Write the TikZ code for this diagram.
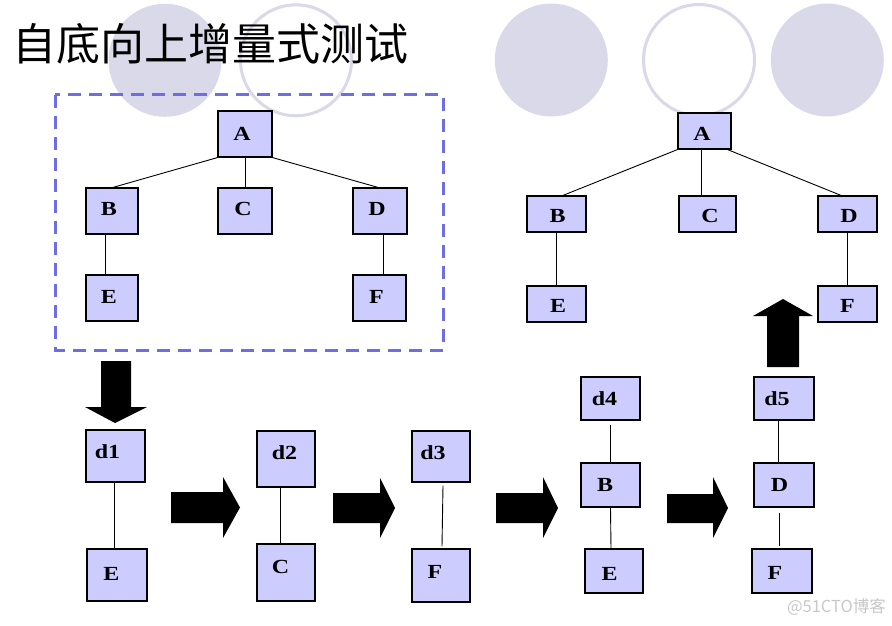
\documentclass[tikz,border=0pt]{standalone}
\usepackage{fontspec}
\setmainfont{Liberation Serif}
\newfontfamily\lblfont{Liberation Serif}[FakeStretch=1.2]
\newfontfamily\cjk{Noto Sans CJK SC}
\definecolor{boxfill}{RGB}{204,204,255}
\definecolor{circfill}{RGB}{217,217,233}
\definecolor{dashblue}{RGB}{110,110,228}
\definecolor{wmgray}{RGB}{200,200,200}
% label placed with an offset (dx right, dy up, in pt) from the box centre
\newcommand\lbl[3]{\raisebox{\dimexpr #2pt - 6.7pt\relax}[0pt][0pt]{\makebox[0pt]{\kern#1pt\kern#1pt #3}}}
\tikzset{
  tbox/.style={draw=black, line width=1.2pt, fill=boxfill, inner sep=0pt,
    font=\lblfont\fontsize{20}{20}\selectfont\bfseries},
  conn/.style={draw=black, line width=0.9pt},
  blockarrow/.style={fill=black},
  deco/.style={fill=circfill},
  decoring/.style={draw=circfill, line width=3pt},
}
\begin{document}
\begin{tikzpicture}[x=1pt,y=-1pt]
\useasboundingbox (0,0) rectangle (892,626);
\fill[white] (0,0) rectangle (892,626);
% decorative circles
\fill[deco] (165,60.3) circle[radius=56.5pt];
\draw[decoring] (296,60.3) circle[radius=55.5pt];
\fill[deco] (551.3,60) circle[radius=56.5pt];
\draw[decoring] (699,60) circle[radius=55.5pt];
\fill[deco] (827.3,60) circle[radius=56.5pt];
% title
\node[anchor=west, inner sep=0pt, font=\cjk\fontsize{44}{44}\selectfont] (title) at (12,44) {自底向上增量式测试};
% dashed frame
\draw[dashblue, line width=3pt, dash pattern=on 13pt off 8pt] (55,95) rectangle (443,350);
% left tree
\node[tbox, minimum width=54pt, minimum height=46pt] (LA) at (245,134) {\lbl{-3}{0}{A}};
\node[tbox, minimum width=52pt, minimum height=46pt] (LB) at (112,211) {\lbl{-3}{2}{B}};
\node[tbox, minimum width=54pt, minimum height=46pt] (LC) at (245,211) {\lbl{-2}{2}{C}};
\node[tbox, minimum width=54pt, minimum height=46pt] (LD) at (380,211) {\lbl{-3}{2}{D}};
\node[tbox, minimum width=52pt, minimum height=46pt] (LE) at (112,298) {\lbl{-3}{1.5}{E}};
\node[tbox, minimum width=53pt, minimum height=46pt] (LF) at (379.5,298) {\lbl{-3}{1.5}{F}};
\draw[conn] (LA.south west) -- ([xshift=1pt]LB.north);
\draw[conn] (LA.south) -- (LC.north);
\draw[conn] (LA.south east) -- ([xshift=-2pt]LD.north);
\draw[conn] ([xshift=-7pt]LB.south) -- ([xshift=-7pt]LE.north);
\draw[conn] ([xshift=3pt]LD.south) -- ([xshift=3.5pt]LF.north);
% right tree
\node[tbox, minimum width=53pt, minimum height=36pt] (RA) at (704.5,131) {\lbl{-2.5}{-3}{A}};
\node[tbox, minimum width=59pt, minimum height=36pt] (RB) at (556.5,214) {\lbl{1}{-2}{B}};
\node[tbox, minimum width=57pt, minimum height=36pt] (RC) at (707.5,214) {\lbl{2.5}{-2}{C}};
\node[tbox, minimum width=59pt, minimum height=36pt] (RD) at (847.5,214) {\lbl{1.5}{-2}{D}};
\node[tbox, minimum width=59pt, minimum height=36pt] (RE) at (556.5,304) {\lbl{1.5}{-2}{E}};
\node[tbox, minimum width=59pt, minimum height=36pt] (RF) at (847.5,304) {\lbl{0}{-2}{F}};
\draw[conn] (RA.south west) -- ([xshift=6.5pt]RB.north);
\draw[conn] ([xshift=-3.5pt]RA.south) -- ([xshift=-6.5pt]RC.north);
\draw[conn] ([xshift=-4pt]RA.south east) -- ([xshift=-6.5pt]RD.north);
\draw[conn] (RB.south) -- (RE.north);
\draw[conn] (RD.south) -- (RF.north);
% bottom sequence
\node[tbox, minimum width=59pt, minimum height=52pt] (d1) at (115.5,456) {\lbl{-8}{4}{d1}};
\node[tbox, minimum width=60pt, minimum height=52pt] (E1) at (117,575) {\lbl{-5.5}{1.5}{E}};
\draw[conn] ([xshift=-1.5pt]d1.south) -- ([xshift=-3pt]E1.north);
\node[tbox, minimum width=58pt, minimum height=56pt] (d2) at (286,459) {\lbl{-1.5}{6}{d2}};
\node[tbox, minimum width=58pt, minimum height=57pt] (C2) at (286,572.5) {\lbl{-5.5}{6}{C}};
\draw[conn] ([xshift=-6pt]d2.south) -- ([xshift=-6pt]C2.north);
\node[tbox, minimum width=58pt, minimum height=51pt] (d3) at (441,456.5) {\lbl{-8}{4}{d3}};
\node[tbox, minimum width=58pt, minimum height=53pt] (F3) at (441,575.5) {\lbl{-6}{4}{F}};
\draw[conn] ([xshift=2pt,yshift=-3pt]d3.south) -- ([xshift=1pt,yshift=2pt]F3.north);
\node[tbox, minimum width=59pt, minimum height=43pt] (d4) at (610.5,398.5) {\lbl{-6}{0}{d4}};
\node[tbox, minimum width=59pt, minimum height=44pt] (B4) at (610.5,485) {\lbl{-5.5}{0}{B}};
\node[tbox, minimum width=58pt, minimum height=44pt] (E4) at (614,571) {\lbl{-4.5}{-2.5}{E}};
\draw[conn] ([yshift=-4pt]d4.south) -- (B4.north);
\draw[conn] (B4.south) -- ([xshift=-3pt]E4.north);
\node[tbox, minimum width=60pt, minimum height=43pt] (d5) at (784,398.5) {\lbl{-7}{0}{d5}};
\node[tbox, minimum width=60pt, minimum height=44pt] (D5) at (784,485) {\lbl{-4.5}{0}{D}};
\node[tbox, minimum width=60pt, minimum height=44pt] (F5) at (782,571) {\lbl{-7}{-1.5}{F}};
\draw[conn] ([xshift=-6pt]d5.south) -- ([xshift=-6pt]D5.north);
\draw[conn] ([xshift=-5pt,yshift=-5pt]D5.south) -- ([xshift=-3pt,yshift=2pt]F5.north);
% block arrows
\fill[blockarrow] (101,361) -- (131,361) -- (131,407) -- (147,407) -- (115,423) -- (85,407) -- (101,407) -- cycle;
\fill[blockarrow] (767,367) -- (799,367) -- (799,316) -- (813,316) -- (783,299) -- (753,316) -- (767,316) -- cycle;
\fill[blockarrow] (171,492) -- (223,492) -- (223,477) -- (240,507.5) -- (223,538) -- (223,523) -- (171,523) -- cycle;
\fill[blockarrow] (333,493) -- (380,493) -- (380,478) -- (395,508) -- (380,538) -- (380,523) -- (333,523) -- cycle;
\fill[blockarrow] (496,493) -- (543,493) -- (543,477) -- (558,508) -- (543,538) -- (543,523) -- (496,523) -- cycle;
\fill[blockarrow] (667,494) -- (713,494) -- (713,477) -- (728,508) -- (713,538) -- (713,523) -- (667,523) -- cycle;
% watermark
\node[anchor=east, inner sep=0pt, text=wmgray, font=\cjk\fontsize{16.5}{16.5}\selectfont] (wm) at (886,607) {@51CTO博客};
\end{tikzpicture}
\end{document}
